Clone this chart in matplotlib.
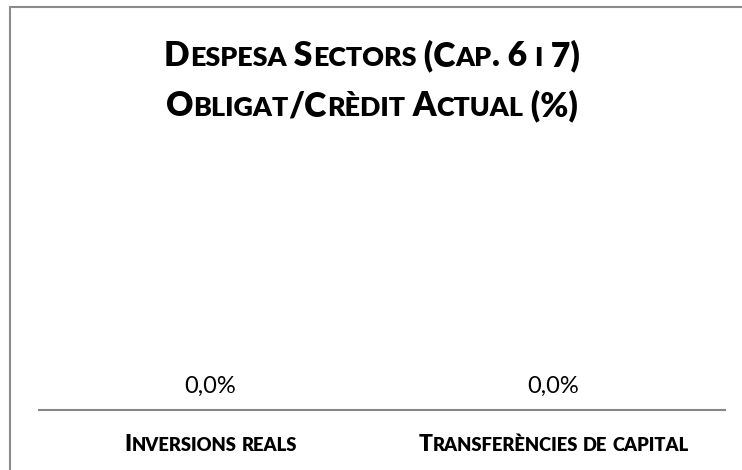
import matplotlib
matplotlib.use("Agg")
import matplotlib.pyplot as plt
from matplotlib.transforms import IdentityTransform
from matplotlib.patches import Rectangle

# ---- data ----
categories = ["Inversions reals", "Transferències de capital"]
values = [0.0, 0.0]
value_labels = ["0,0%", "0,0%"]
title_lines = ["Despesa Sectors (Cap. 6 i 7)", "Obligat/Crèdit Actual (%)"]

FONT = ["Lato", "DejaVu Sans"]
W, H = 742, 470

fig = plt.figure(figsize=(W / 100, H / 100), dpi=100)
fig.patch.set_facecolor("white")
renderer = fig.canvas.get_renderer()
ID = IdentityTransform()


def text_w(s, size, weight):
    t = fig.text(0, 0, s, fontsize=size, fontweight=weight, family=FONT)
    w = t.get_window_extent(renderer).width
    t.remove()
    return w


def adv(s, size, weight):
    return text_w("|" + s + "|", size, weight) - text_w("||", size, weight)


def smallcaps(cx, y, s, size, ratio=0.8, weight="bold", color="black"):
    runs = []
    for ch in s:
        small = ch.islower()
        if runs and runs[-1][1] == small:
            runs[-1][0] += ch
        else:
            runs.append([ch, small])
    items = []
    for txt, small in runs:
        sz = size * ratio if small else size
        up = txt.upper()
        items.append((up, sz, adv(up, sz, weight)))
    total = sum(i[2] for i in items)
    x = cx - total / 2
    for up, sz, w in items:
        fig.text(x, y, up, fontsize=sz, fontweight=weight, family=FONT,
                 color=color, ha="left", va="baseline", transform=ID)
        x += w


# ---- border (chart area frame) ----
fig.patches.append(Rectangle((10, -20), 800, H - 7 + 20, transform=ID,
                             fill=False, edgecolor="#8c8c8c", linewidth=1.5))

# ---- axes ----
ax = fig.add_axes([39 / W, 60 / H, 686 / W, 250 / H])
x = list(range(len(categories)))
ax.bar(x, values, width=0.5, color="#4f81bd")
ax.set_xlim(-0.5, len(categories) - 0.5)
ax.set_ylim(0, 1)
for s in ["top", "left", "right"]:
    ax.spines[s].set_visible(False)
ax.spines["bottom"].set_color("#868686")
ax.spines["bottom"].set_linewidth(1.5)
ax.set_xticks([])
ax.set_yticks([])
ax.patch.set_alpha(0)

for xi, v, lab in zip(x, values, value_labels):
    ax.annotate(lab, (xi, v), xytext=(0, 17), textcoords="offset pixels",
                ha="center", va="baseline", fontsize=17, family=FONT,
                color="#000000")

# category labels in small caps
for xi, cat in zip(x, categories):
    px = ax.transData.transform((xi, 0))[0]
    smallcaps(px, 19, cat, 16.5, ratio=0.8, weight="heavy")

# title in small caps
smallcaps(372, H - 66, title_lines[0], 24.2, ratio=0.8, weight="heavy")
smallcaps(372, H - 116, title_lines[1], 24.2, ratio=0.8, weight="heavy")

fig.savefig("out.png", dpi=100)
